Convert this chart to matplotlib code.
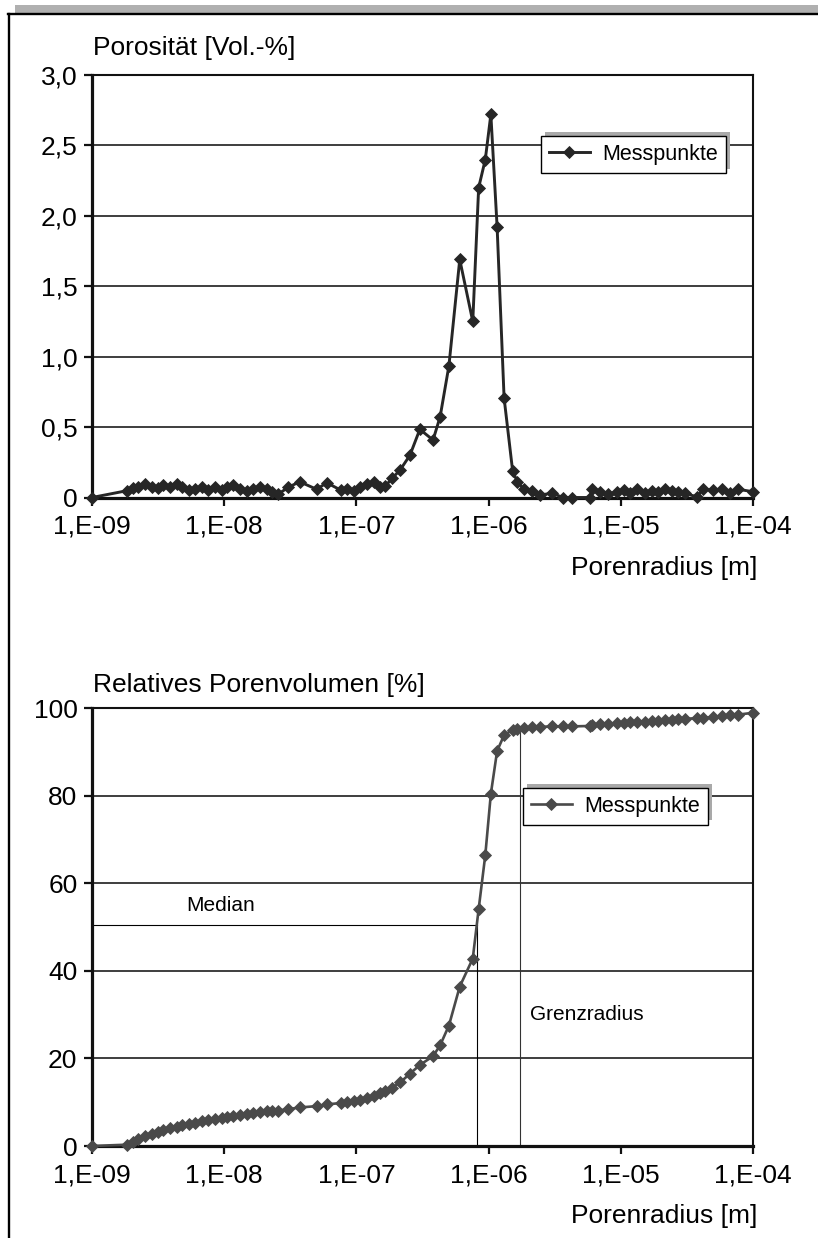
import matplotlib
matplotlib.use("Agg")
import matplotlib.pyplot as plt
from matplotlib.patches import Rectangle
from matplotlib.lines import Line2D
from matplotlib.ticker import FixedLocator, FixedFormatter, NullLocator

# ---------------------------------------------------------------- data
# pore radius of each measuring point [m]
radius = [
    1.00e-9, 1.83e-9, 2.06e-9, 2.24e-9, 2.51e-9, 2.82e-9, 3.16e-9, 3.47e-9,
    3.89e-9, 4.37e-9, 4.79e-9, 5.37e-9, 6.03e-9, 6.76e-9, 7.59e-9, 8.51e-9,
    9.55e-9, 1.05e-8, 1.17e-8, 1.32e-8, 1.48e-8, 1.66e-8, 1.86e-8, 2.09e-8,
    2.29e-8, 2.57e-8, 3.05e-8, 3.72e-8, 5.01e-8, 5.96e-8, 7.59e-8, 8.51e-8,
    9.55e-8, 1.07e-7, 1.20e-7, 1.35e-7, 1.51e-7, 1.66e-7, 1.86e-7, 2.14e-7,
    2.54e-7, 3.02e-7, 3.80e-7, 4.30e-7, 5.01e-7, 6.05e-7, 7.59e-7, 8.41e-7,
    9.44e-7, 1.04e-6, 1.16e-6, 1.31e-6, 1.52e-6, 1.65e-6, 1.85e-6, 2.12e-6,
    2.45e-6, 3.02e-6, 3.67e-6, 4.27e-6, 5.85e-6, 6.10e-6, 6.97e-6, 8.04e-6,
    9.33e-6, 1.05e-5, 1.17e-5, 1.32e-5, 1.52e-5, 1.71e-5, 1.92e-5, 2.16e-5,
    2.43e-5, 2.72e-5, 3.05e-5, 3.75e-5, 4.21e-5, 5.01e-5, 5.79e-5, 6.70e-5,
    7.76e-5, 1.00e-4,
]

# porosity per radius class [Vol.-%]
porosity = [
    0.000, 0.048, 0.065, 0.072, 0.096, 0.072, 0.065, 0.086,
    0.072, 0.093, 0.072, 0.053, 0.058, 0.077, 0.053, 0.072,
    0.053, 0.072, 0.086, 0.058, 0.048, 0.058, 0.072, 0.058,
    0.038, 0.025, 0.072, 0.112, 0.058, 0.105, 0.053, 0.058,
    0.048, 0.072, 0.096, 0.112, 0.077, 0.082, 0.136, 0.195,
    0.300, 0.484, 0.408, 0.574, 0.935, 1.690, 1.250, 2.200,
    2.400, 2.720, 1.920, 0.706, 0.188, 0.112, 0.058, 0.048,
    0.018, 0.030, 0.000, 0.000, 0.000, 0.062, 0.041, 0.025,
    0.041, 0.053, 0.030, 0.058, 0.030, 0.048, 0.040, 0.058,
    0.048, 0.041, 0.030, 0.005, 0.058, 0.053, 0.058, 0.034,
    0.058, 0.041,
]

# cumulative relative pore volume [%]
rel_volume = [
    0.0, 0.3, 1.0, 1.5, 2.2, 2.7, 3.2, 3.6,
    4.0, 4.4, 4.7, 5.0, 5.3, 5.6, 5.9, 6.1,
    6.4, 6.6, 6.9, 7.1, 7.3, 7.5, 7.7, 7.9,
    8.0, 8.1, 8.4, 8.8, 9.1, 9.5, 9.8, 10.0,
    10.3, 10.6, 11.0, 11.5, 12.0, 12.5, 13.3, 14.5,
    16.5, 18.5, 20.5, 23.0, 27.5, 36.4, 42.8, 54.1,
    66.4, 80.4, 90.2, 93.8, 95.0, 95.3, 95.5, 95.6,
    95.7, 95.8, 95.8, 95.8, 95.9, 96.2, 96.3, 96.4,
    96.5, 96.6, 96.7, 96.8, 96.9, 97.0, 97.1, 97.2,
    97.3, 97.4, 97.5, 97.7, 97.8, 97.9, 98.1, 98.3,
    98.5, 98.9,
]

median_radius = 8.1e-7
median_value = 50.5
grenz_radius = 1.73e-6
grenz_value = 95.0

xtick_values = [1e-9, 1e-8, 1e-7, 1e-6, 1e-5, 1e-4]
xtick_labels = ["1,E-09", "1,E-08", "1,E-07", "1,E-06", "1,E-05", "1,E-04"]
ytick_top = [0, 0.5, 1.0, 1.5, 2.0, 2.5, 3.0]
ytick_top_labels = ["0", "0,5", "1,0", "1,5", "2,0", "2,5", "3,0"]
ytick_bottom = [0, 20, 40, 60, 80, 100]
ytick_bottom_labels = ["0", "20", "40", "60", "80", "100"]

series_label = "Messpunkte"
x_title = "Porenradius [m]"
y_title_top = "Porosität [Vol.-%]"
y_title_bottom = "Relatives Porenvolumen [%]"

# ---------------------------------------------------------------- figure
plt.rcParams["font.family"] = ["Liberation Sans", "DejaVu Sans"]

W, H = 818, 1238
fig = plt.figure(figsize=(W / 100, H / 100), dpi=100)
fig.patch.set_facecolor("white")


def fx(px):
    return px / W


def fy(py):
    return 1 - py / H


# page frame: grey strip, black top rule, black left rule
fig.add_artist(Rectangle((fx(15), fy(12.5)), fx(818) - fx(15), fy(4.5) - fy(12.5),
                         transform=fig.transFigure, facecolor="#b0b0b0",
                         edgecolor="none"))
fig.add_artist(Line2D([fx(8), fx(818)], [fy(13.5), fy(13.5)],
                      transform=fig.transFigure, color="black", lw=1.7))
fig.add_artist(Line2D([fx(9), fx(9)], [fy(13.5), fy(1238)],
                      transform=fig.transFigure, color="black", lw=1.7))

ax1 = fig.add_axes([fx(92), fy(497.5), fx(753) - fx(92), fy(75) - fy(497.5)])
ax2 = fig.add_axes([fx(92), fy(1146), fx(753) - fx(92), fy(708) - fy(1146)])


def style_axes(ax, yticks, ylabels, ymax):
    ax.set_xscale("log")
    ax.set_xlim(1e-9, 1e-4)
    ax.set_ylim(0, ymax)
    ax.xaxis.set_major_locator(FixedLocator(xtick_values))
    ax.xaxis.set_major_formatter(FixedFormatter(xtick_labels))
    ax.xaxis.set_minor_locator(NullLocator())
    ax.yaxis.set_major_locator(FixedLocator(yticks))
    ax.yaxis.set_major_formatter(FixedFormatter(ylabels))
    ax.grid(axis="y", color="#1e1e1e", lw=1.2)
    ax.grid(axis="x", visible=False)
    ax.set_axisbelow(True)
    for side in ("left", "bottom"):
        ax.spines[side].set_linewidth(2.3)
    for side in ("top", "right"):
        ax.spines[side].set_linewidth(1.5)
    for sp in ax.spines.values():
        sp.set_color("#111111")
    ax.tick_params(axis="both", direction="out", length=5.5, width=1.6,
                   labelsize=19, color="#111111")
    ax.tick_params(axis="x", pad=7)
    ax.tick_params(axis="y", pad=5)


style_axes(ax1, ytick_top, ytick_top_labels, 3.0)
style_axes(ax2, ytick_bottom, ytick_bottom_labels, 100)

top_color = "#262626"
bottom_color = "#4a4a4a"
ax1.plot(radius, porosity, color=top_color, lw=2.1, marker="D", ms=6.6,
         mfc=top_color, mec=top_color, mew=0.6, clip_on=False, zorder=3,
         label=series_label)
ax2.plot(radius, rel_volume, color=bottom_color, lw=1.9, marker="D", ms=6.6,
         mfc=bottom_color, mec=bottom_color, mew=0.6, clip_on=False, zorder=3,
         label=series_label)

# median and limiting radius guides
ax2.plot([1e-9, median_radius], [median_value, median_value],
         color="black", lw=0.8, zorder=2)
ax2.plot([median_radius, median_radius], [0, median_value],
         color="black", lw=0.8, zorder=2)
ax2.plot([grenz_radius, grenz_radius], [0, grenz_value],
         color="#333333", lw=0.8, zorder=2)
ax2.text(5.14e-9, 55, "Median", fontsize=15, ha="left", va="center")
ax2.text(2.06e-6, 30, "Grenzradius", fontsize=15, ha="left", va="center")

# axis titles
fig.text(fx(93), fy(55), y_title_top, fontsize=19, ha="left", va="baseline")
fig.text(fx(93), fy(692), y_title_bottom, fontsize=19, ha="left",
         va="baseline")
fig.text(fx(757), fy(575), x_title, fontsize=19, ha="right", va="baseline")
fig.text(fx(757), fy(1223), x_title, fontsize=19, ha="right", va="baseline")

# legends with a grey offset shadow
legends = []
for ax, (lx, ly) in ((ax1, (541, 136)), (ax2, (523, 788))):
    leg = ax.legend(loc="upper left", bbox_to_anchor=(fx(lx), fy(ly)),
                    bbox_transform=fig.transFigure, borderaxespad=0,
                    frameon=True, fancybox=False, framealpha=1,
                    edgecolor="black", fontsize=15.5, borderpad=0.36,
                    handlelength=1.9, handletextpad=0.6, markerscale=0.85)
    leg.get_frame().set_linewidth(1.0)
    legends.append((ax, leg))

fig.canvas.draw()
for ax, leg in legends:
    bb = leg.get_window_extent()
    inv = ax.transAxes.inverted()
    (x0, y0) = inv.transform((bb.x0 + 4, bb.y0 + 4))
    (x1, y1) = inv.transform((bb.x1 + 4, bb.y1 + 4))
    ax.add_artist(Rectangle((x0, y0), x1 - x0, y1 - y0,
                            transform=ax.transAxes, facecolor="#a9a9a9",
                            edgecolor="none", zorder=4.5, clip_on=False))

fig.savefig("out.png", dpi=100)
